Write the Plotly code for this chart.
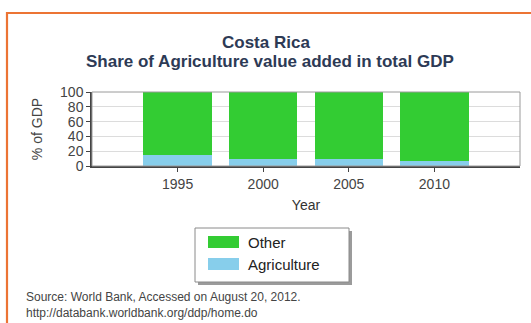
import plotly.graph_objects as go

# Costa Rica: agriculture share of GDP (%), remainder shown as "Other"
years = [1995, 2000, 2005, 2010]
agriculture = [14.8, 9.3, 8.8, 7.2]
other = [round(100 - a, 1) for a in agriculture]
series_names = ["Other", "Agriculture"]
series_colors = ["#33cc33", "#87ceeb"]
y_ticks = [0, 20, 40, 60, 80, 100]

W, H = 531, 323
L, R, T, B = 92, 520, 92, 166  # plot area in pixels


def px(x):
    return (x - L) / (R - L)


def py(y):
    return (B - y) / (B - T)


fig = go.Figure()
fig.add_trace(go.Bar(x=years, y=agriculture, name=series_names[1],
                     marker=dict(color=series_colors[1], line=dict(width=0)),
                     width=4, showlegend=False))
fig.add_trace(go.Bar(x=years, y=other, name=series_names[0],
                     marker=dict(color=series_colors[0], line=dict(width=0)),
                     width=4, showlegend=False))

shapes = []
# orange frame (top and left edges)
shapes.append(dict(type="path", xref="paper", yref="paper",
                   path=f"M {px(7)},{py(340)} L {px(7)},{py(13)} L {px(540)},{py(13)}",
                   line=dict(color="#ec7434", width=2.2)))
# plot border (top/right lighter)
shapes.append(dict(type="rect", xref="paper", yref="paper", x0=0, x1=1, y0=0, y1=1,
                   line=dict(color="#9a9a9a", width=1), layer="above"))

# legend box with drop shadow
lx0, lx1, ly0, ly1 = 195, 349, 228, 282
shapes.append(dict(type="rect", xref="paper", yref="paper",
                   x0=px(lx0 + 3), x1=px(lx1 + 3), y0=py(ly1 + 3), y1=py(ly0 + 3),
                   fillcolor="#9b9b9b", line=dict(width=0)))
shapes.append(dict(type="rect", xref="paper", yref="paper",
                   x0=px(lx0), x1=px(lx1), y0=py(ly1), y1=py(ly0),
                   fillcolor="white", line=dict(color="#8a8a8a", width=1)))
annotations = []
legend_rows = [242, 264]
for name, color, yc in zip(series_names, series_colors, legend_rows):
    shapes.append(dict(type="rect", xref="paper", yref="paper",
                       x0=px(208), x1=px(239), y0=py(yc + 6), y1=py(yc - 6),
                       fillcolor=color, line=dict(width=0)))
    annotations.append(dict(text=name, xref="paper", yref="paper",
                            x=px(246), y=py(yc), xanchor="left", yanchor="middle",
                            showarrow=False,
                            font=dict(family="Arial, Liberation Sans", size=15, color="#222")))

# title
annotations.append(dict(text="<b>Costa Rica</b>", xref="paper", yref="paper",
                        x=px(266), y=py(42), xanchor="center", yanchor="middle",
                        showarrow=False,
                        font=dict(family="Arial, Liberation Sans", size=17, color="#2d3a55")))
annotations.append(dict(text="<b>Share of Agriculture value added in total GDP</b>",
                        xref="paper", yref="paper",
                        x=px(270), y=py(62), xanchor="center", yanchor="middle",
                        showarrow=False,
                        font=dict(family="Arial, Liberation Sans", size=17, color="#2d3a55")))
# source note
annotations.append(dict(text="Source: World Bank, Accessed on August 20, 2012.<br>"
                             "http://databank.worldbank.org/ddp/home.do",
                        xref="paper", yref="paper", x=px(24), y=py(305),
                        xanchor="left", yanchor="middle", align="left", showarrow=False,
                        font=dict(family="Arial, Liberation Sans", size=12, color="#444")))

fig.update_layout(
    width=W, height=H,
    margin=dict(l=L, r=W - R, t=T, b=H - B),
    paper_bgcolor="white", plot_bgcolor="white",
    barmode="stack", bargap=0,
    showlegend=False,
    shapes=shapes, annotations=annotations,
    font=dict(family="Arial, Liberation Sans", color="#444"),
    xaxis=dict(range=[1990, 2015], tickvals=years, ticks="outside", ticklen=4,
               tickcolor="#444", showline=True, linecolor="#444", linewidth=1.5,
               showgrid=False, zeroline=False,
               tickfont=dict(size=14, color="#444"),
               title=dict(text="Year", font=dict(size=14, color="#333"), standoff=10)),
    yaxis=dict(range=[0, 100], tickvals=y_ticks, ticks="outside", ticklen=4,
               tickcolor="#444", showline=True, linecolor="#444", linewidth=1.5,
               showgrid=True, gridcolor="#dcdcdc", zeroline=False,
               tickfont=dict(size=14, color="#444"),
               title=dict(text="% of GDP", font=dict(size=14, color="#444"), standoff=14)),
)

fig.write_html("out.html")
